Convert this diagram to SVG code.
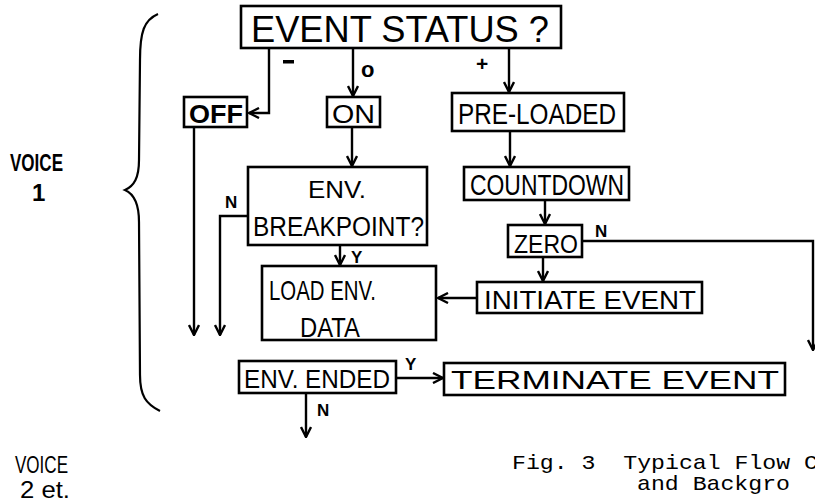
<svg xmlns="http://www.w3.org/2000/svg" width="815" height="503" viewBox="0 0 815 503">
<defs>
<marker id="ah" viewBox="0 0 12 12" refX="11" refY="6" markerWidth="12" markerHeight="12" markerUnits="userSpaceOnUse" orient="auto">
<path d="M1,1 L11,6 L1,11" fill="none" stroke="#000" stroke-width="2.4"/>
</marker>
<style>
.box{fill:#fff;stroke:#000;stroke-width:2.6}
.t{font-family:"Liberation Sans",Arial,sans-serif;fill:#000;text-anchor:start}
.lbl{font-family:"Liberation Sans",Arial,sans-serif;font-weight:bold;fill:#000}
.c{fill:none;stroke:#000;stroke-width:2.4;marker-end:url(#ah)}
.cap{font-family:"Liberation Mono","Courier New",monospace;font-size:21px;fill:#000}
</style>
</defs>
<rect width="815" height="503" fill="#fff"/>

<path d="M158,14 C144,20 140,32 140,60 L139,160 C139,178 134,186 125,190 C134,194 139,204 139,222 L140,375 C140,396 146,404 160,411" fill="none" stroke="#000" stroke-width="2.2"/>
<g id="voice1">
<text class="t" x="10" y="171" font-size="24" textLength="53" lengthAdjust="spacingAndGlyphs" font-weight="bold">VOICE</text>
<text class="t" x="32" y="201" font-size="24" font-weight="bold">1</text>
</g>
<g id="voice2">
<text class="t" x="15" y="473" font-size="24" textLength="53" lengthAdjust="spacingAndGlyphs">VOICE</text>
<text class="t" x="20" y="498" font-size="24" textLength="50" lengthAdjust="spacingAndGlyphs">2 et.</text>
</g>

<g id="connectors">
<path class="c" d="M269,48 V113 H249"/>
<path class="c" d="M353,48 V96"/>
<path class="c" d="M509,48 V92"/>
<path class="c" d="M352,127 V166"/>
<path class="c" d="M194,127 V335"/>
<path class="c" d="M248,216 H220 V335"/>
<path class="c" d="M340,245 V265"/>
<path class="c" d="M510,131 V166"/>
<path class="c" d="M545,200 V224"/>
<path class="c" d="M582,241 H813 V350"/>
<path class="c" d="M543,257 V281"/>
<path class="c" d="M477,298 H438"/>
<path class="c" d="M396,378 H443"/>
<path class="c" d="M306,393 V437"/>
<rect x="283" y="60" width="11" height="3.5" fill="#000"/>
<text class="lbl" x="361" y="77" font-size="22">o</text>
<text class="lbl" x="476" y="71" font-size="21">+</text>
<text class="lbl" x="225" y="208" font-size="17">N</text>
<text class="lbl" x="351" y="263" font-size="17">Y</text>
<text class="lbl" x="595" y="237" font-size="17">N</text>
<text class="lbl" x="405" y="370" font-size="17">Y</text>
<text class="lbl" x="317" y="416" font-size="17">N</text>
</g>

<g id="event-status">
<rect class="box" x="241" y="6" width="320" height="42"/>
<text class="t" x="251" y="42" font-size="37" textLength="298" lengthAdjust="spacingAndGlyphs">EVENT STATUS ?</text>
</g>
<g id="off">
<rect class="box" x="184" y="97" width="63" height="30"/>
<text class="t" x="189" y="123" font-size="26" textLength="54" lengthAdjust="spacingAndGlyphs" font-weight="bold">OFF</text>
</g>
<g id="on">
<rect class="box" x="327" y="97" width="53" height="30"/>
<text class="t" x="332" y="123" font-size="26" textLength="43" lengthAdjust="spacingAndGlyphs">ON</text>
</g>
<g id="pre-loaded">
<rect class="box" x="452" y="93" width="172" height="38"/>
<text class="t" x="458" y="124" font-size="29" textLength="158" lengthAdjust="spacingAndGlyphs">PRE-LOADED</text>
</g>
<g id="env-breakpoint">
<rect class="box" x="248" y="167" width="179" height="78"/>
<text class="t" x="308" y="198" font-size="24" textLength="58" lengthAdjust="spacingAndGlyphs">ENV.</text>
<text class="t" x="253" y="236" font-size="27" textLength="171" lengthAdjust="spacingAndGlyphs">BREAKPOINT?</text>
</g>
<g id="countdown">
<rect class="box" x="464" y="167" width="165" height="33"/>
<text class="t" x="470" y="195" font-size="29" textLength="154" lengthAdjust="spacingAndGlyphs">COUNTDOWN</text>
</g>
<g id="zero">
<rect class="box" x="508" y="225" width="74" height="32"/>
<text class="t" x="514" y="253" font-size="26" textLength="64" lengthAdjust="spacingAndGlyphs">ZERO</text>
</g>
<g id="load-env-data">
<rect class="box" x="262" y="266" width="174" height="74"/>
<text class="t" x="269" y="300" font-size="28" textLength="107" lengthAdjust="spacingAndGlyphs">LOAD ENV.</text>
<text class="t" x="300" y="337" font-size="28" textLength="60" lengthAdjust="spacingAndGlyphs">DATA</text>
</g>
<g id="initiate-event">
<rect class="box" x="477" y="282" width="225" height="31"/>
<text class="t" x="484" y="309" font-size="26" textLength="212" lengthAdjust="spacingAndGlyphs">INITIATE EVENT</text>
</g>
<g id="env-ended">
<rect class="box" x="239" y="361" width="157" height="32"/>
<text class="t" x="244" y="388" font-size="26" textLength="146" lengthAdjust="spacingAndGlyphs">ENV. ENDED</text>
</g>
<g id="terminate-event">
<rect class="box" x="444" y="363" width="341" height="32"/>
<text class="t" x="451" y="389" font-size="26" textLength="328" lengthAdjust="spacingAndGlyphs">TERMINATE EVENT</text>
</g>

<g id="caption">
<text class="cap" x="512" y="469" textLength="306" lengthAdjust="spacingAndGlyphs">Fig. 3&#160;&#160;Typical Flow C</text>
<text class="cap" x="637" y="490" textLength="153" lengthAdjust="spacingAndGlyphs">and Backgro</text>
</g>
</svg>
